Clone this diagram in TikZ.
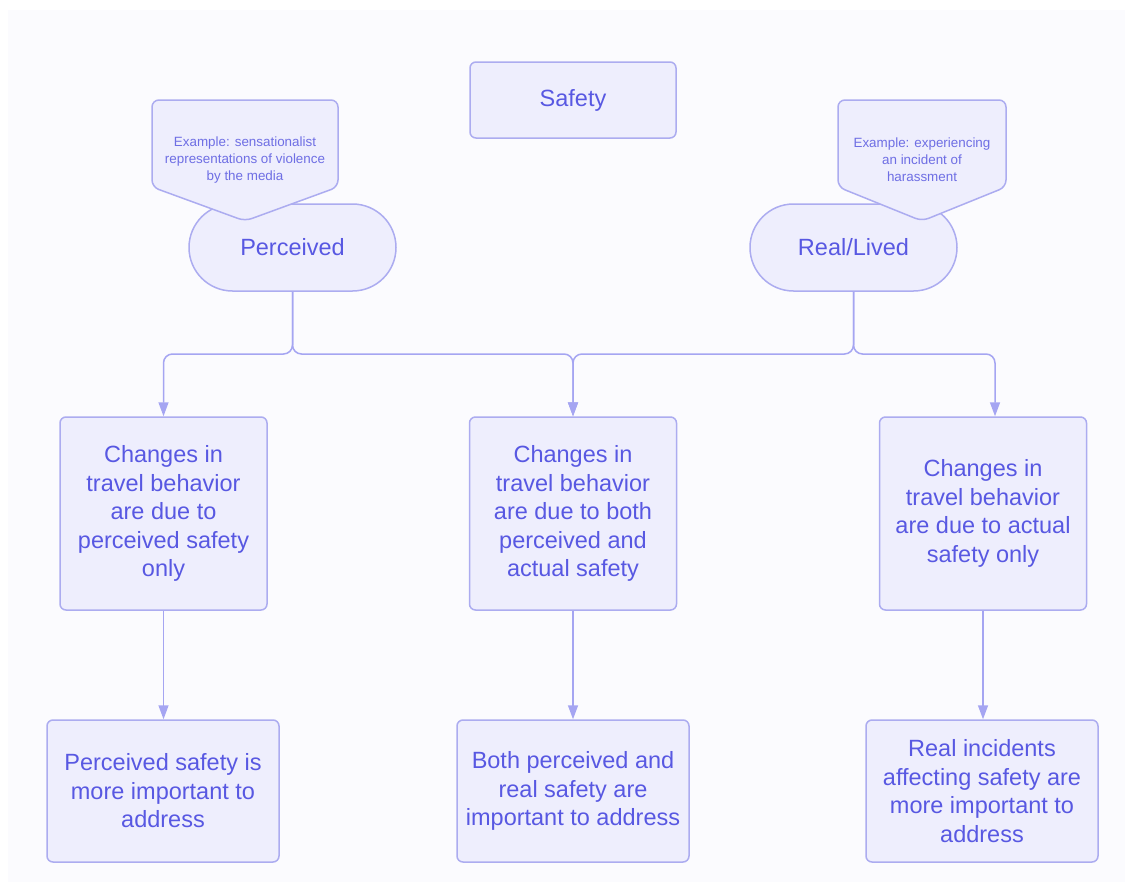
\documentclass[tikz,border=0pt]{standalone}
\usepackage{fontspec}
\setmainfont{Liberation Sans}
\usepackage{tikz}
\usetikzlibrary{arrows.meta,positioning,shapes.misc}
\definecolor{mybg}{RGB}{251,251,254}
\definecolor{myfill}{RGB}{238,238,253}
\definecolor{myline}{RGB}{172,172,240}
\definecolor{myarrow}{RGB}{165,165,242}
\definecolor{mytext}{RGB}{88,88,226}
\definecolor{mysmall}{RGB}{110,110,228}

\begin{document}
\begin{tikzpicture}[x=1pt,y=-1pt,>={Triangle[length=14pt,width=10pt]},
  base/.style={draw=myline,fill=myfill,line width=1.5pt,text=mytext,align=center,inner sep=0pt,font=\fontsize{23.5}{28.5}\selectfont},
  box/.style={base,rectangle,rounded corners=6pt},
  pill/.style={base,rounded rectangle,minimum width=207pt,minimum height=87pt},
  callout/.style={draw=myline,fill=myfill,line width=1.5pt,rounded corners=7pt},
  note/.style={text=mysmall,align=center,inner sep=0pt,font=\fontsize{13.4}{17}\selectfont},
  conn/.style={->,draw=myarrow,line width=1.5pt,rounded corners=9pt}]
\useasboundingbox (0,0) rectangle (1133,892);
\fill[mybg] (8,10) rectangle (1125,882);

\node[box,minimum width=206pt,minimum height=76pt] (safety) at (573,100) {Safety};

\node[pill] (perc) at (292.5,247.5) {Perceived};
\node[pill] (real) at (853.5,247.5) {Real/Lived};

\filldraw[callout] (152,187) -- (152,100) -- (338,100) -- (338,187) -- (245,221) -- cycle;
\node[note] (ex1) at (245,160) {Example: sensationalist\\representations of violence\\by the media};
\filldraw[callout] (838,187) -- (838,100) -- (1006,100) -- (1006,187) -- (922,221) -- cycle;
\node[note] (ex2) at (922,160) {Example: experiencing\\an incident of\\harassment};

\node[box,minimum width=207pt,minimum height=193pt] (chg1) at (163.5,513.5) {Changes in\\travel behavior\\are due to\\perceived safety\\only};
\node[box,minimum width=207pt,minimum height=193pt] (chg2) at (573,513.5) {Changes in\\travel behavior\\are due to both\\perceived and\\actual safety};
\node[box,minimum width=207pt,minimum height=193pt] (chg3) at (983,513.5) {Changes in\\travel behavior\\are due to actual\\safety only};

\node[box,minimum width=232pt,minimum height=142pt] (imp1) at (163,791) {Perceived safety is\\more important to\\address};
\node[box,minimum width=232pt,minimum height=142pt] (imp2) at (573,791) {Both perceived and\\real safety are\\important to address};
\node[box,minimum width=232pt,minimum height=142pt] (imp3) at (982,791) {Real incidents\\affecting safety are\\more important to\\address};

\coordinate (bus) at (0,354);
\coordinate (tip3) at ([xshift=12pt]chg3.north);
\draw[conn] (perc.south) -- (perc.south |- bus) -| (chg1.north);
\draw[conn] (perc.south) -- (perc.south |- bus) -| (chg2.north);
\draw[conn] (real.south) -- (real.south |- bus) -| (chg2.north);
\draw[conn] (real.south) -- (real.south |- bus) -| (tip3);

\draw[conn] (chg1.south) -- (imp1.north -| chg1.south);
\draw[conn] (chg2.south) -- (imp2.north);
\draw[conn] (chg3.south) -- (imp3.north -| chg3.south);
\end{tikzpicture}
\end{document}
